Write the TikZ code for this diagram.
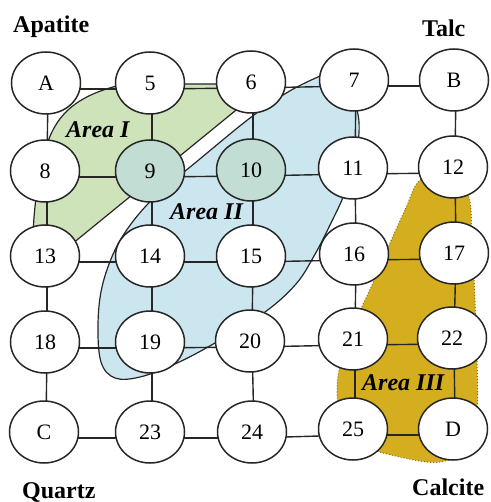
\documentclass[tikz,border=0pt]{standalone}
\usepackage{fontspec}
\setmainfont{Liberation Serif}
\usetikzlibrary{shapes.geometric}
\definecolor{lc}{HTML}{262626}
\definecolor{areaA}{HTML}{CFE3BA}
\definecolor{areaB}{HTML}{CCE6EF}
\definecolor{teal9}{HTML}{C2DDD3}
\definecolor{areaC}{HTML}{D5AE1F}
\definecolor{golddot}{HTML}{8A6E10}
\pgfdeclarelayer{bg}
\pgfdeclarelayer{mid}
\pgfsetlayers{bg,mid,main}
\begin{document}
\begin{tikzpicture}[x=1pt,y=-1pt,
  st/.style={ellipse, draw=lc, line width=1.5pt, fill=white, minimum width=69pt, minimum height=62pt, inner sep=0pt, font=\fontsize{22}{22}\selectfont},
  sh/.style={st, fill=teal9},
  conn/.style={draw=lc, line width=1.4pt},
  arealabel/.style={anchor=base west, inner sep=0pt, font=\bfseries\itshape\fontsize{24}{24}\selectfont},
  corner/.style={anchor=base west, inner sep=0pt, font=\bfseries\fontsize{24}{24}\selectfont}]
\useasboundingbox (0,0) rectangle (490,502);
% nodes
\node[st] (nA) at (46,83) {A};
\node[st] (n5) at (150,83) {5};
\node[st] (n6) at (251,82) {6};
\node[st] (n7) at (354,80) {7};
\node[st] (nB) at (454,80) {B};
\node[st] (n8) at (45,171) {8};
\node[sh] (n9) at (150,171) {9};
\node[sh] (n10) at (251,170) {10};
\node[st] (n11) at (353,168) {11};
\node[st] (n12) at (453,167) {12};
\node[st] (n13) at (45,256) {13};
\node[st] (n14) at (150,256) {14};
\node[st] (n15) at (251,256) {15};
\node[st] (n16) at (354,254) {16};
\node[st] (n17) at (454,253) {17};
\node[st] (n18) at (45,342) {18};
\node[st] (n19) at (150,342) {19};
\node[st] (n20) at (250,341) {20};
\node[st] (n21) at (353,339) {21};
\node[st] (n22) at (452,338) {22};
\node[st] (nC) at (44,432) {C};
\node[st] (n23) at (150,432) {23};
\node[st] (n24) at (252,432) {24};
\node[st] (n25) at (353,429) {25};
\node[st] (nD) at (453,429) {D};
% areas
\begin{pgfonlayer}{bg}
\fill[areaA, draw=lc, line width=1.2pt] (72,244) -- (268,84) -- (125,84)
   .. controls (80,94) and (56,112) .. (46,148)
   .. controls (38,178) and (33,210) .. (33,244) -- cycle;
\fill[areaB, draw=lc, line width=1.2pt] plot[smooth cycle, tension=0.6] coordinates {
  (335,70) (357,110) (357,150) (345,192) (330,225) (314,256) (296,284) (265,312)
  (215,343) (175,364) (140,377) (115,378) (101,362) (98,325) (102,287) (115,250)
  (134,220) (160,192) (195,163) (250,118) (288,92) (320,76)};
\fill[areaC, draw=golddot, line width=1pt, dotted] plot[smooth cycle, tension=0.6] coordinates {
  (420,180) (405,210) (390,243) (372,285) (355,322) (342,357) (337,392) (344,425)
  (365,446) (400,457) (440,462) (468,447) (477,410) (477,360) (475,300) (472,240)
  (468,195) (445,178)};
\end{pgfonlayer}
% connectors
\begin{pgfonlayer}{mid}
\foreach \a/\b in {A/5,5/6,6/7,7/B,8/9,9/10,10/11,11/12,13/14,14/15,15/16,16/17,18/19,19/20,20/21,21/22,C/23,23/24,24/25,25/D}
  \draw[conn] ([yshift=-6pt]n\a.center) -- ([yshift=-6pt]n\b.center);
\foreach \a/\b in {A/8,8/13,13/18,18/C,5/9,9/14,14/19,19/23,6/10,10/15,15/20,20/24,7/11,11/16,16/21,21/25,B/12,12/17,17/22,22/D}
  \draw[conn] ([xshift=2pt]n\a.center) -- ([xshift=2pt]n\b.center);
\end{pgfonlayer}
% labels
\node[arealabel] (l1) at (66,138) {Area I};
\node[arealabel] (l2) at (170,220) {Area II};
\node[arealabel] (l3) at (362,390) {Area III};
\node[corner] (apa) at (13,33) {Apatite};
\node[corner] (talc) at (422,37) {Talc};
\node[corner] (qua) at (22,498) {Quartz};
\node[corner] (cal) at (412,495) {Calcite};
\end{tikzpicture}
\end{document}
